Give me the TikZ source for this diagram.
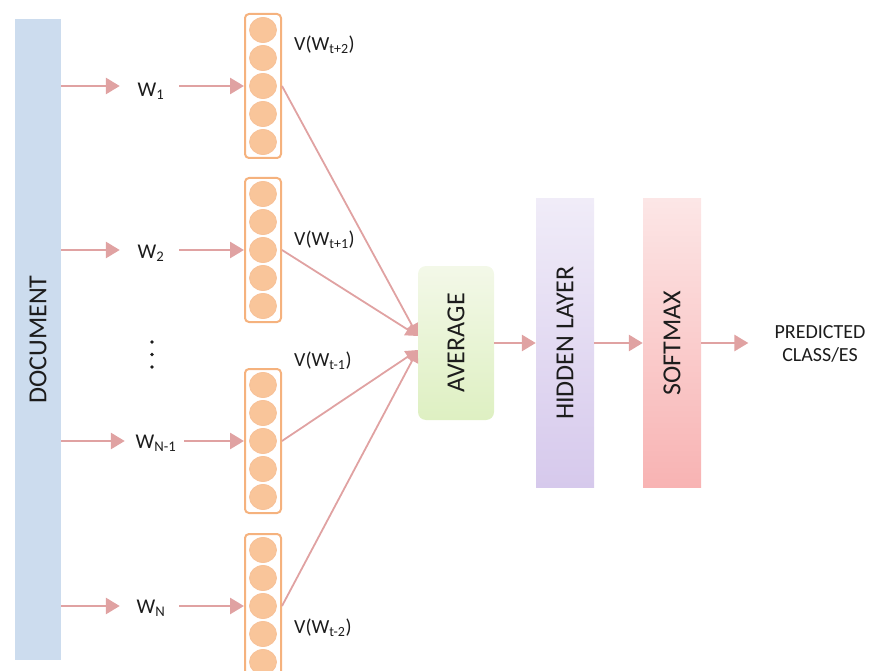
\documentclass[tikz,border=0pt]{standalone}
\usepackage{fontspec}
\setmainfont{Carlito}
\usetikzlibrary{arrows.meta,calc}
\definecolor{docblue}{HTML}{CCDCEE}
\definecolor{arrowpink}{HTML}{E0A2A2}
\definecolor{vecline}{HTML}{F5B27E}
\definecolor{vecfill}{HTML}{F9C59A}
\definecolor{txt}{HTML}{1C1C1C}
\definecolor{avgtop}{HTML}{F3F8E8}
\definecolor{avgbot}{HTML}{DEF0C2}
\definecolor{hidtop}{HTML}{F0ECF8}
\definecolor{hidbot}{HTML}{D6C9EC}
\definecolor{softop}{HTML}{FCE6E6}
\definecolor{sofbot}{HTML}{F8B3B3}
\tikzset{
  conn/.style={draw=arrowpink, line width=2.8pt, -{Triangle[length=14pt,width=16pt]}},
  fan/.style={draw=arrowpink, line width=1.8pt, -{Triangle[length=12pt,width=13pt]}},
  wlab/.style={text=txt, font=\fontsize{21}{24}\selectfont, minimum width=56pt, inner sep=0pt},
  vlab/.style={text=txt, font=\fontsize{20}{23}\selectfont, anchor=west, inner sep=0pt},
  vecbox/.style={draw=vecline, line width=2pt, rounded corners=4pt, minimum width=36pt, minimum height=144pt, inner sep=0pt},
  unit/.style={draw=vecline!80!white, fill=vecfill, line width=0.8pt},
  vert/.style={rotate=90, text=txt, font=\fontsize{26}{29}\selectfont},
}
\begin{document}
\begin{tikzpicture}[x=1pt,y=-1pt]
\useasboundingbox (0,0) rectangle (870,671);
% document bar
\node[fill=docblue, minimum width=46pt, minimum height=641pt, inner sep=0pt] (doc) at (38,339.5) {};
\node[vert] (doclab) at (doc.center) {DOCUMENT};
% word labels
\node[wlab] (w1) at (151,91) {W\textsubscript{1}};
\node[wlab] (w2) at (151,253) {W\textsubscript{2}};
\node[wlab] (wn1) at (156,443) {W\textsubscript{N-1}};
\node[wlab] (wn) at (151,608) {W\textsubscript{N}};
% dots
\fill[txt] (152,342) circle (1.9pt) (152,354.5) circle (1.9pt) (152,367) circle (1.9pt);
% vectors
\foreach \n/\y in {v1/86, v2/250, v3/441, v4/606}{
  \node[vecbox] (\n) at (263,\y) {};
  \foreach \o in {-56,-28,0,28,56}{
    \draw[unit] ($(\n.center)+(0,\o)$) ellipse (13.5pt and 12.5pt);
  }
}
% vector labels
\node[vlab] (l1) at (294,45) {V(W\textsubscript{t+2})};
\node[vlab] (l2) at (294,240) {V(W\textsubscript{t+1})};
\node[vlab] (l3) at (294,361) {V(W\textsubscript{t-1})};
\node[vlab] (l4) at (294,628) {V(W\textsubscript{t-2})};
% blocks
\shade[rounded corners=8pt, top color=avgtop, bottom color=avgbot] (418,266) rectangle (494,420);
\node[minimum width=76pt, minimum height=154pt, inner sep=0pt] (avg) at (456,343) {};
\node[vert] at (avg.center) {AVERAGE};
\shade[top color=hidtop, bottom color=hidbot] (536,199) rectangle (594,487);
\node[minimum width=58pt, minimum height=288pt, inner sep=0pt] (hid) at (565,343) {};
\node[vert] at (hid.center) {HIDDEN LAYER};
\shade[top color=softop, bottom color=sofbot] (643,199) rectangle (701,487);
\node[minimum width=58pt, minimum height=288pt, inner sep=0pt] (soft) at (672,343) {};
\node[vert] at (soft.center) {SOFTMAX};
\node[text=txt, font=\fontsize{20}{23}\selectfont, align=center, inner sep=0pt] (pred) at (820,344) {PREDICTED\\CLASS/ES};
% arrows doc -> words -> vectors
\foreach \w/\v in {w1/v1, w2/v2, wn1/v3, wn/v4}{
  \draw[conn, shorten >=3pt] (doc.east |- \v) -- (\w.west |- \v);
  \draw[conn] (\w.east |- \v) -- (\v.west);
}
% fan in
\draw[fan] (v1.east) -- ([yshift=7pt]avg.west);
\draw[fan] (v2.east) -- ([yshift=7pt]avg.west);
\draw[fan] (v3.east) -- ([yshift=-7pt]avg.west);
\draw[fan] (v4.east) -- ([yshift=-7pt]avg.west);
% right chain
\draw[conn] (avg.east) -- (hid.west);
\draw[conn] (hid.east) -- (soft.west);
\draw[conn, shorten >=26pt] (soft.east) -- (soft.east -| pred.west);
\end{tikzpicture}
\end{document}
